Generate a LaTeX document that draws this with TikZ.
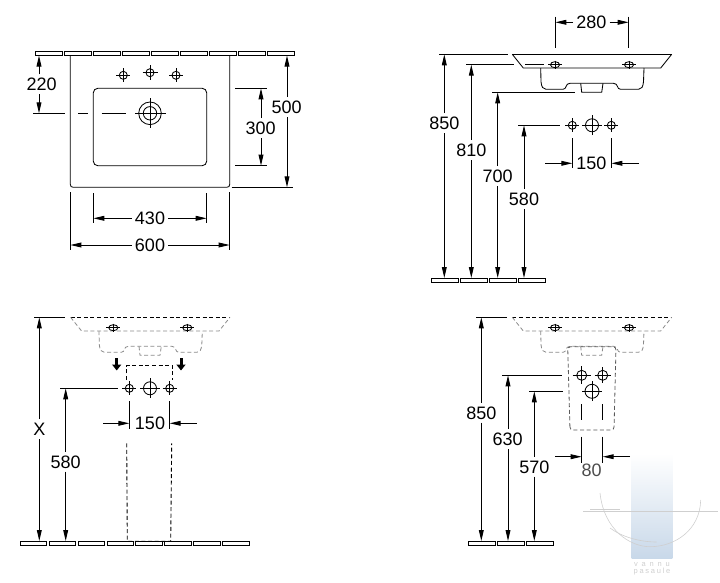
\documentclass[tikz,border=0pt]{standalone}
\usepackage{fontspec}
\setmainfont{Liberation Sans}
\newfontfamily\wmfont[LetterSpace=23]{Liberation Sans}
\usetikzlibrary{arrows.meta}
\definecolor{ghostgray}{HTML}{8A8A8A}
\definecolor{wmblue}{HTML}{C8D8E9}
\definecolor{wmgray}{HTML}{CFCFCF}
\tikzset{
  dimlabel/.style={font=\fontsize{18}{20}\selectfont,text height=12.8pt,text depth=0pt,inner xsep=3pt,inner ysep=3.4pt},
  dimarrow/.style={line width=0.95pt,-{Stealth[length=11pt,width=4.8pt,inset=0pt]}},
  extline/.style={line width=0.95pt},
  tile/.style={line width=0.95pt},
  bodyline/.style={line width=0.85pt},
  ghostline/.style={line width=0.8pt,ghostgray,dash pattern=on 4pt off 2.6pt},
  ghosttop/.style={line width=0.8pt,black,dash pattern=on 4pt off 2.6pt},
  cutline/.style={line width=0.9pt,dash pattern=on 4pt off 2.6pt},
  droparrow/.style={line width=3pt,-{Stealth[length=6pt,width=9pt,inset=0pt]}}
}
% tap hole: x, y, radius, reach of the cross
\newcommand{\tapmark}[4]{
  \draw[bodyline] (#1,#2) circle (#3);
  \draw[bodyline] (#1-#4,#2) -- (#1+#4,#2) (#1,#2-#4) -- (#1,#2+#4);
}
% basin seen from the front: style of top edge, style of the rest
\newcommand{\basinprofile}[2]{
  \draw[#1] (512.3,54.3) -- (671.7,54.3);
  \draw[#2] (512.3,54.3) -- (523.3,68) -- (660.7,68) -- (671.7,54.3);
  \draw[#2] (540.7,68) -- (541,81.7) .. controls (541.5,87) and (543,89.3) .. (546,89.3) -- (563,89.3)
    .. controls (567,89.3) and (565,83.3) .. (570,83.3) -- (613.5,83.3)
    .. controls (618.5,83.3) and (616.5,89.3) .. (620.5,89.3) -- (638.5,89.3)
    .. controls (641.5,89.3) and (643,87) .. (643.5,81.7) -- (644,68);
  \draw[#2] (580.7,83.3) -- (581.7,92.3) -- (601.7,92.3) -- (603,83.3);
  \foreach \hx in {555,629}{
    \draw[bodyline] (\hx,64.7) ellipse (4.6 and 3);
    \draw[bodyline] (\hx-7,64.7) -- (\hx+7,64.7) (\hx,60.5) -- (\hx,69);
  }
}
\begin{document}
\begin{tikzpicture}[x=1pt,y=-1pt]
\useasboundingbox (0,0) rectangle (720,582);

% watermark
\shade[top color=white,bottom color=wmblue] (631.7,453.3) rectangle (672.3,558.7);
\draw[wmgray,line width=0.6pt] (600,493) .. controls (604,530) and (630,546.7) .. (650,546.7)
  .. controls (675,546.7) and (700,530) .. (700.7,500);
\draw[wmgray,line width=0.6pt] (610,528) .. controls (622,537) and (640,542) .. (656.7,542);
\draw[wmgray,line width=0.6pt] (583,511.3) -- (718,511.3);
\draw[wmgray,line width=1.2pt] (590,509.3) -- (620,509.3);
\node[text=wmgray,font=\wmfont\fontsize{7.5}{8}\selectfont,inner sep=0pt] (wmtop) at (652,564.5) {v a n n u};
\node[text=wmgray,font=\wmfont\fontsize{7.5}{8}\selectfont,inner sep=0pt] (wmbot) at (652,572) {pasaule};

% floor tiles
\foreach \x in {35.3,64.3,93.3,122.3,151.3,180.3,209.3,238.3,267.3}
  \draw[tile] (\x,51.5) rectangle +(26.7,4);
\foreach \x in {431.3,460.3,489.3,518.3}
  \draw[tile] (\x,278) rectangle +(26.7,4.3);
\foreach \x in {20,49,78,107,135.5,164.3,193.3,222.3}
  \draw[tile] (\x,541) rectangle +(26.7,4.3);
\foreach \x in {468.3,497.3,526.3}
  \draw[tile] (\x,541) rectangle +(26.7,4.3);

% top view
\draw[bodyline] (70.3,55.5) -- (70.3,184.3) .. controls (70.3,186.3) and (71.3,187.3) .. (73.3,187.3)
  -- (226.7,187.3) .. controls (228.7,187.3) and (229.7,186.3) .. (229.7,184.3) -- (229.7,55.5);
\draw[bodyline,rounded corners=4.5pt] (93.3,88.3) rectangle (206.7,165.7);
\tapmark{123.3}{75.3}{4}{7}
\tapmark{150}{72.7}{4}{7.5}
\tapmark{176}{75.3}{4}{7}
\draw[bodyline] (150,113.3) circle (11.3) (150,113.3) circle (6.7);
\draw[bodyline] (135,113.3) -- (165.5,113.3) (150,98.3) -- (150,128.3);
\draw[extline] (33.3,113.3) -- (65,113.3) (78.3,113.3) -- (88,113.3) (101.7,113.3) -- (126,113.3);
\draw[extline] (235,88.3) -- (266.7,88.3) (235,165.7) -- (266.7,165.7);
\draw[extline] (231.7,187.3) -- (292.7,187.3);
\draw[extline] (93.3,193) -- (93.3,223.3) (206.7,193) -- (206.7,223.3);
\draw[extline] (70.3,192.3) -- (70.3,250) (229.7,192.3) -- (229.7,250);

% side view
\basinprofile{bodyline}{bodyline}
\tapmark{572.3}{125.3}{4}{7}
\tapmark{592}{125.3}{6.5}{10}
\tapmark{611.3}{125.3}{4}{7}
\draw[extline] (555.3,16.7) -- (555.3,47.7) (628.7,16.7) -- (628.7,47.7);
\draw[extline] (439.3,54.3) -- (507.7,54.3);
\draw[extline] (466,64.7) -- (514,64.7) (525.3,64.7) -- (544,64.7);
\draw[extline] (492.3,92.3) -- (575,92.3);
\draw[extline] (518.3,125.3) -- (560,125.3);
\draw[extline] (572.3,138.3) -- (572.3,168.3) (611.3,138.3) -- (611.3,168.3);

% front view with narrow pedestal
\begin{scope}[shift={(-441.7,263)}]
\basinprofile{ghosttop}{ghostline}
\end{scope}
\draw[cutline] (126.7,380) -- (126.7,365.7) -- (172.7,365.7) -- (172.7,380);
\draw[cutline] (126.7,443.3) -- (127.3,541.3) -- (170.7,541.3) -- (171.7,443.3);
\draw[droparrow] (116.7,358.3) -- (116.7,370.5);
\draw[droparrow] (181,358.3) -- (181,370.5);
\tapmark{129.3}{388.3}{4}{7}
\tapmark{150}{388.3}{6.5}{10}
\tapmark{169.7}{388.3}{4}{7}
\draw[extline] (34,317.3) -- (65,317.3);
\draw[extline] (60,388.3) -- (118,388.3);
\draw[extline] (129.3,401) -- (129.3,429.3) (169.7,401) -- (169.7,429.3);

% front view with wide pedestal
\begin{scope}[shift={(0,263)}]
\basinprofile{ghosttop}{ghostline}
\end{scope}
\draw[ghostline,black!65,rounded corners=3pt] (570,430) -- (567.7,346.7) -- (616,346.7) -- (614,430) -- cycle;
\tapmark{581.7}{375.3}{5}{9}
\tapmark{602.7}{375.3}{5}{8}
\tapmark{592}{391.3}{7}{10}
\draw[extline] (476,317.3) -- (507.3,317.3);
\draw[extline] (502.3,375.3) -- (561.7,375.3);
\draw[extline] (529,391.3) -- (562.7,391.3);
\draw[extline] (581.7,404) -- (581.7,420) (602.7,404) -- (602.7,420);
\draw[extline] (581.7,436.7) -- (581.7,463) (602.7,436.7) -- (602.7,463);

% vertical dimensions: name/text/line x/label x/label y/top end/bottom end
\foreach \nm/\txt/\x/\lx/\ly/\ya/\yb in {
  a/220/39/41.7/84.3/55.5/113.3,
  b/300/261/260.7/128/88.3/165.7,
  c/500/287/286.7/107/55.5/187.3,
  d/850/444.3/444.3/123/54.3/278,
  e/810/471.3/471.3/150/64.7/278,
  f/700/497.7/497.7/176/92.3/278,
  g/X/39.3/39.3/429/317.3/541,
  h/580/65.7/65.7/461.7/388.3/541,
  i/850/481.3/481.3/412.7/317.3/541,
  j/630/508/507.7/439/375.3/541,
  k/570/534.3/534.3/466.7/391.3/541}{
  \node[dimlabel] (v\nm) at (\lx,\ly) {\txt};
  \coordinate (v\nm top) at (\x,\ya);
  \coordinate (v\nm bot) at (\x,\yb);
  \draw[dimarrow] (v\nm top |- v\nm.north) -- (v\nm top);
  \draw[dimarrow] (v\nm bot |- v\nm.south) -- (v\nm bot);
}
\node[dimlabel] (vm) at (524,199) {580};
\coordinate (vmtop) at (524,125.3);
\coordinate (vmbot) at (524,278);
\draw[dimarrow] (vm.north) -- (vmtop);
\draw[dimarrow] (vm.south) -- (vmbot);

% horizontal dimensions, arrows out of the label
\foreach \nm/\txt/\lx/\y/\xa/\xb in {
  p/430/150/218.3/93.3/206.7,
  q/600/150/245/70.3/229.7,
  r/280/591.3/22.3/555.3/628.7}{
  \node[dimlabel] (h\nm) at (\lx,\y) {\txt};
  \coordinate (h\nm l) at (\xa,\y);
  \coordinate (h\nm r) at (\xb,\y);
  \draw[dimarrow] (h\nm.west) -- (h\nm l);
  \draw[dimarrow] (h\nm.east) -- (h\nm r);
}

% horizontal dimensions, arrows from outside
\foreach \nm/\txt/\lx/\ly/\y/\xa/\xb/\xc/\xd/\col in {
  s/150/591.3/163.3/163.3/545/572.3/639/611.3/black,
  t/150/150/423.3/423.3/103/129.3/196.7/169.7/black,
  u/80/591.7/470/456.7/555/581.7/630/602.7/black!70}{
  \node[dimlabel,text=\col] (h\nm) at (\lx,\ly) {\txt};
  \coordinate (h\nm a) at (\xa,\y);
  \coordinate (h\nm b) at (\xb,\y);
  \coordinate (h\nm c) at (\xc,\y);
  \coordinate (h\nm d) at (\xd,\y);
  \draw[dimarrow] (h\nm a) -- (h\nm b);
  \draw[dimarrow] (h\nm c) -- (h\nm d);
}
\end{tikzpicture}
\end{document}
